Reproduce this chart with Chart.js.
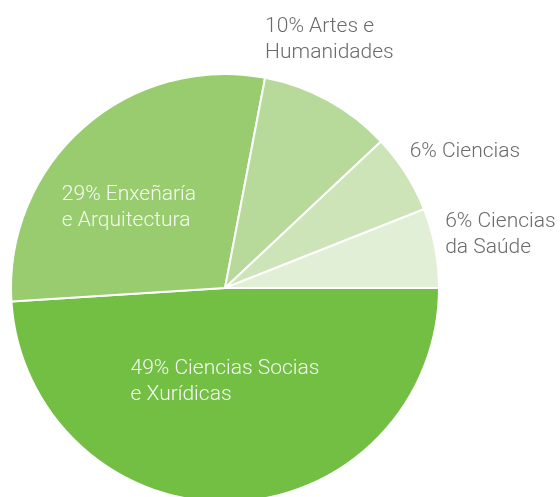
<!DOCTYPE html>
<html>
<head>
<meta charset="utf-8">
<script src="https://cdn.jsdelivr.net/npm/chart.js@4/dist/chart.umd.min.js"></script>
<style>
  html, body { margin: 0; padding: 0; background: #fff; overflow: hidden; }
  #wrap { width: 560px; height: 520px; }
</style>
</head>
<body>
<div id="wrap"><canvas id="pie" width="560" height="520"></canvas></div>
<script>
// Chart data
const categories = ['Ciencias Socias e Xurídicas', 'Enxeñaría e Arquitectura', 'Artes e Humanidades', 'Ciencias', 'Ciencias da Saúde'];
const shares = [49, 29, 10, 6, 6];
const labelLines = [
    ['49% Ciencias Socias', 'e Xurídicas'],
    ['29% Enxeñaría', 'e Arquitectura'],
    ['10% Artes e', 'Humanidades'],
    ['6% Ciencias'],
    ['6% Ciencias', 'da Saúde']
];
const sliceColors = ['#72bf44', '#98cc6f', '#b7da9b', '#cce4b8', '#e1efd6'];

// label placement, in units of the pie radius from its centre
const labelSpots = [
    { x: 0.0, y: 0.428, color: 'rgba(255,255,255,0.92)' },
    { x: -0.449, y: -0.383, color: 'rgba(255,255,255,0.92)' },
    { x: 0.488, y: -1.168, color: '#6b6b6b' },
    { x: 1.121, y: -0.645, color: '#6b6b6b' },
    { x: 1.287, y: -0.257, color: '#6b6b6b' }
];

const sliceLabels = {
    id: 'sliceLabels',
    afterDatasetsDraw(chart) {
        const meta = chart.getDatasetMeta(0);
        const arc = meta.data[0];
        const cx = arc.x, cy = arc.y, r = arc.outerRadius;
        const ctx = chart.ctx;
        const lineH = 26;
        ctx.save();
        ctx.font = '300 21px Roboto';
        ctx.textBaseline = 'middle';
        ctx.textAlign = 'left';
        labelLines.forEach((lines, i) => {
            const spot = labelSpots[i];
            const w = Math.max(...lines.map(l => ctx.measureText(l).width));
            const left = cx + spot.x * r - w / 2;
            const top = cy + spot.y * r - (lines.length - 1) * lineH / 2 + 2;
            ctx.fillStyle = spot.color;
            lines.forEach((l, j) => ctx.fillText(l, left, top + j * lineH));
        });
        ctx.restore();
    }
};

new Chart(document.getElementById('pie'), {
    type: 'pie',
    data: {
        labels: categories,
        datasets: [{
            data: shares,
            backgroundColor: sliceColors,
            borderColor: '#ffffff',
            borderWidth: 2
        }]
    },
    options: {
        responsive: false,
        animation: false,
        rotation: 90,
        layout: { padding: { left: 10, top: 73, right: 120, bottom: 17 } },
        plugins: {
            legend: { display: false },
            tooltip: { enabled: false }
        }
    },
    plugins: [sliceLabels]
});
</script>
</body>
</html>
